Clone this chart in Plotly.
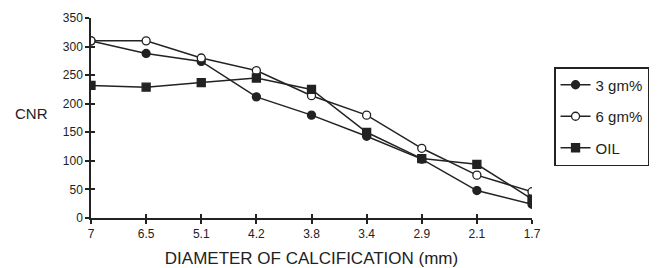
import plotly.graph_objects as go

categories = ["7", "6.5", "5.1", "4.2", "3.8", "3.4", "2.9", "2.1", "1.7"]
gm3 = [310, 288, 274, 212, 180, 143, 103, 48, 24]
gm6 = [310, 310, 280, 258, 214, 180, 122, 75, 46]
oil = [232, 229, 237, 245, 225, 150, 104, 94, 33]
y_ticks = [0, 50, 100, 150, 200, 250, 300, 350]

FONT = "Liberation Sans, Arial, sans-serif"
INK = "#222"
fig = go.Figure()
series = [
    ("3 gm%", gm3, "circle", INK, 8),
    ("6 gm%", gm6, "circle", "white", 8),
    ("OIL", oil, "square", INK, 8),
]
xs = list(range(len(categories)))
for i, (name, vals, sym, fill, sz) in enumerate(series):
    fig.add_trace(go.Scatter(
        x=xs, y=vals, name=name, mode="lines+markers",
        line=dict(color=INK, width=1.5),
        marker=dict(symbol=sym, size=sz, color=fill, line=dict(color=INK, width=1.3)),
        legendgroup=str(i),
    ))

# invisible trace for overlay axes (inside half of crossing ticks)
fig.add_trace(go.Scatter(x=[0], y=[0], xaxis="x2", yaxis="y2", mode="markers",
                         marker=dict(opacity=0), showlegend=False, hoverinfo="skip"))

axis_common = dict(showgrid=False, zeroline=False, showline=True, linecolor=INK, linewidth=1.5,
                   tickcolor=INK, tickwidth=1.5, ticklen=4, automargin=False)

fig.update_layout(
    width=661, height=268,
    margin=dict(l=91, r=127, t=18, b=50),
    paper_bgcolor="white", plot_bgcolor="white",
    font=dict(family=FONT, color=INK, size=12),
    showlegend=True,
    legend=dict(x=1.05, y=0.755, xanchor="left", yanchor="top",
                bordercolor=INK, borderwidth=1.5, bgcolor="white",
                font=dict(size=15, family=FONT), tracegroupgap=9,
                itemwidth=30),
    xaxis=dict(range=[0, 8], tickmode="array", tickvals=xs, ticktext=categories,
               ticks="outside", tickfont=dict(size=12, family=FONT),
               title=dict(text="DIAMETER OF CALCIFICATION (mm)",
                          font=dict(size=17, family=FONT), standoff=14),
               **axis_common),
    yaxis=dict(range=[0, 350], tickmode="array", tickvals=y_ticks, ticks="outside",
               tickfont=dict(size=12, family=FONT), **axis_common),
    xaxis2=dict(range=[0, 8], tickmode="array", tickvals=xs, ticks="inside",
                showticklabels=False, overlaying="x", anchor="y2", **axis_common),
    yaxis2=dict(range=[0, 350], tickmode="array", tickvals=y_ticks, ticks="inside",
                showticklabels=False, overlaying="y", anchor="x2", **axis_common),
    annotations=[dict(text="CNR", x=-0.176, y=0.525, xref="paper", yref="paper",
                      xanchor="left", showarrow=False, font=dict(size=15, family=FONT))],
)
fig.write_html("out.html", post_script="document.body.style.margin='0';",
               config={"displayModeBar": False})
